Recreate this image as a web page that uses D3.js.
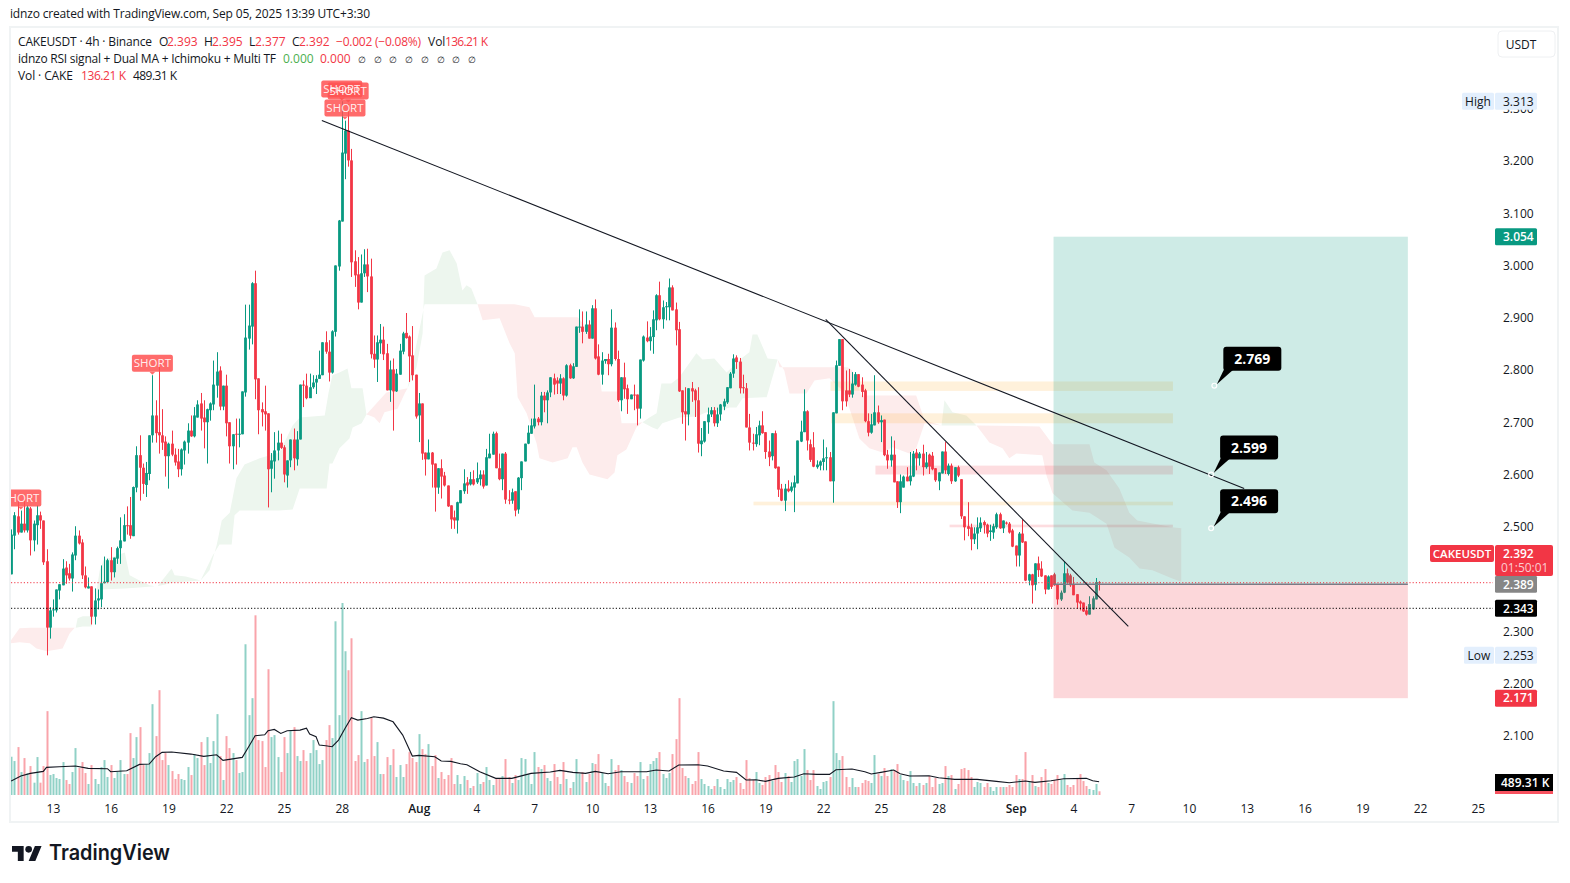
<!DOCTYPE html>
<html><head><meta charset="utf-8">
<script src="https://cdn.jsdelivr.net/npm/d3@7/dist/d3.min.js"></script>
<style>
html,body{margin:0;padding:0;background:#fff;}
svg{display:block;}
text{font-family:"Open Sans","Noto Sans",sans-serif;}
</style></head><body><svg id="c" width="1570" height="883"></svg>
<script>
const opens=[
2.408,2.482,2.519,2.488,2.505,2.492,2.534,2.473,2.502,2.521,
2.511,2.433,2.306,2.339,2.339,2.377,2.387,2.421,2.410,2.400,
2.444,2.482,2.469,2.406,2.381,2.385,2.327,2.358,2.360,2.391,
2.393,2.435,2.412,2.438,2.458,2.471,2.502,2.502,2.481,2.574,
2.636,2.612,2.579,2.600,2.674,2.712,2.680,2.674,2.662,2.634,
2.658,2.637,2.624,2.609,2.645,2.660,2.683,2.672,2.708,2.735,
2.708,2.699,2.722,2.733,2.769,2.798,2.729,2.769,2.699,2.653,
2.677,2.676,2.676,2.756,2.859,2.882,2.965,2.783,2.724,2.720,
2.716,2.610,2.624,2.645,2.660,2.651,2.597,2.626,2.666,2.628,
2.666,2.771,2.769,2.745,2.766,2.775,2.782,2.789,2.852,2.834,
2.794,2.872,2.997,3.083,3.213,3.257,3.200,3.007,2.982,2.928,
2.984,3.001,2.978,2.830,2.819,2.850,2.857,2.831,2.760,2.800,
2.758,2.790,2.834,2.870,2.863,2.827,2.790,2.712,2.735,2.641,
2.628,2.641,2.620,2.574,2.611,2.597,2.578,2.540,2.517,2.511,
2.544,2.567,2.584,2.580,2.590,2.584,2.590,2.599,2.578,2.630,
2.637,2.678,2.611,2.590,2.639,2.551,2.549,2.567,2.532,2.592,
2.624,2.658,2.677,2.691,2.706,2.699,2.750,2.741,2.756,2.783,
2.779,2.773,2.783,2.750,2.808,2.783,2.805,2.881,2.882,2.872,
2.886,2.859,2.917,2.825,2.790,2.816,2.820,2.810,2.880,2.820,
2.741,2.785,2.764,2.743,2.752,2.752,2.725,2.817,2.861,2.854,
2.862,2.894,2.942,2.896,2.919,2.919,2.957,2.915,2.877,2.760,
2.720,2.714,2.764,2.760,2.741,2.657,2.662,2.699,2.714,2.722,
2.697,2.714,2.729,2.737,2.764,2.792,2.823,2.815,2.766,2.764,
2.689,2.660,2.657,2.674,2.693,2.680,2.643,2.634,2.678,2.614,
2.572,2.549,2.572,2.568,2.574,2.582,2.662,2.680,2.720,2.657,
2.651,2.613,2.616,2.623,2.630,2.632,2.586,2.716,2.807,2.858,
2.760,2.760,2.752,2.771,2.791,2.771,2.760,2.701,2.679,2.693,
2.718,2.699,2.704,2.637,2.626,2.637,2.586,2.546,2.574,2.595,
2.586,2.595,2.641,2.630,2.639,2.613,2.637,2.635,2.611,2.586,
2.601,2.643,2.600,2.616,2.586,2.613,2.590,2.519,2.500,2.498,
2.475,2.486,2.496,2.508,2.503,2.489,2.488,2.498,2.523,2.496,
2.507,2.505,2.492,2.463,2.444,2.486,2.471,2.396,2.408,2.388,
2.429,2.419,2.406,2.379,2.406,2.408,2.389,2.360,2.373,2.410,
2.406,2.389,2.370,2.356,2.354,2.339,2.331,2.341,2.360,2.393];
const closes=[
2.484,2.521,2.488,2.505,2.492,2.536,2.473,2.505,2.521,2.511,
2.431,2.306,2.339,2.341,2.379,2.389,2.419,2.406,2.400,2.446,
2.482,2.467,2.406,2.383,2.385,2.327,2.358,2.362,2.391,2.394,
2.435,2.412,2.440,2.458,2.473,2.502,2.500,2.482,2.575,2.636,
2.612,2.581,2.602,2.674,2.712,2.678,2.674,2.660,2.634,2.658,
2.637,2.622,2.609,2.647,2.662,2.683,2.672,2.712,2.733,2.706,
2.699,2.724,2.735,2.771,2.796,2.729,2.769,2.697,2.653,2.676,
2.676,2.677,2.758,2.861,2.884,2.965,2.781,2.722,2.718,2.714,
2.609,2.626,2.645,2.660,2.650,2.599,2.626,2.666,2.630,2.666,
2.771,2.769,2.745,2.766,2.775,2.782,2.790,2.852,2.834,2.794,
2.873,2.999,3.085,3.215,3.257,3.200,3.005,2.980,2.928,2.984,
3.001,2.978,2.829,2.819,2.852,2.857,2.829,2.760,2.800,2.758,
2.792,2.836,2.869,2.860,2.825,2.789,2.710,2.735,2.639,2.628,
2.641,2.618,2.574,2.611,2.595,2.578,2.538,2.513,2.511,2.546,
2.569,2.582,2.578,2.590,2.580,2.592,2.599,2.576,2.632,2.639,
2.677,2.611,2.590,2.639,2.551,2.549,2.565,2.530,2.593,2.624,
2.658,2.679,2.693,2.706,2.699,2.750,2.741,2.756,2.785,2.771,
2.773,2.783,2.750,2.808,2.783,2.806,2.882,2.882,2.872,2.886,
2.859,2.917,2.821,2.790,2.817,2.820,2.810,2.880,2.820,2.741,
2.785,2.762,2.743,2.752,2.750,2.725,2.819,2.863,2.854,2.863,
2.896,2.942,2.896,2.919,2.921,2.957,2.913,2.875,2.758,2.718,
2.714,2.764,2.758,2.741,2.658,2.664,2.701,2.714,2.722,2.697,
2.714,2.733,2.739,2.766,2.792,2.821,2.814,2.764,2.764,2.689,
2.660,2.658,2.676,2.693,2.678,2.642,2.632,2.678,2.611,2.570,
2.549,2.572,2.567,2.576,2.584,2.664,2.681,2.720,2.664,2.627,
2.614,2.618,2.624,2.630,2.632,2.586,2.718,2.808,2.858,2.739,
2.739,2.752,2.773,2.791,2.767,2.757,2.701,2.679,2.695,2.718,
2.699,2.703,2.636,2.626,2.637,2.584,2.546,2.586,2.595,2.586,
2.597,2.639,2.630,2.639,2.613,2.622,2.614,2.609,2.588,2.603,
2.643,2.607,2.616,2.586,2.613,2.597,2.519,2.498,2.495,2.475,
2.486,2.498,2.507,2.502,2.486,2.492,2.500,2.523,2.496,2.511,
2.505,2.488,2.461,2.444,2.486,2.469,2.396,2.408,2.387,2.429,
2.416,2.404,2.379,2.404,2.384,2.387,2.360,2.373,2.410,2.392,
2.387,2.368,2.354,2.352,2.337,2.331,2.351,2.362,2.393,2.392];
const highs=[
2.494,2.527,2.559,2.530,2.556,2.540,2.537,2.511,2.540,2.528,
2.511,2.456,2.345,2.360,2.379,2.389,2.437,2.433,2.428,2.450,
2.500,2.492,2.475,2.423,2.402,2.385,2.381,2.379,2.425,2.442,
2.438,2.460,2.440,2.461,2.517,2.523,2.538,2.556,2.576,2.653,
2.674,2.620,2.623,2.674,2.789,2.741,2.808,2.724,2.672,2.660,
2.683,2.649,2.648,2.649,2.664,2.697,2.712,2.728,2.741,2.755,
2.741,2.725,2.737,2.817,2.833,2.806,2.769,2.790,2.699,2.676,
2.706,2.706,2.758,2.924,2.924,2.967,2.989,2.783,2.737,2.769,
2.716,2.640,2.680,2.683,2.677,2.655,2.626,2.666,2.687,2.682,
2.771,2.779,2.792,2.792,2.789,2.789,2.836,2.852,2.873,2.856,
2.875,2.999,3.086,3.313,3.276,3.308,3.222,3.028,3.015,3.020,
3.030,3.031,3.012,2.865,2.865,2.887,2.882,2.849,2.817,2.821,
2.801,2.849,2.872,2.908,2.865,2.883,2.790,2.755,2.735,2.641,
2.666,2.642,2.620,2.611,2.628,2.604,2.578,2.540,2.530,2.547,
2.569,2.609,2.594,2.604,2.607,2.622,2.607,2.607,2.648,2.677,
2.681,2.681,2.639,2.639,2.642,2.569,2.572,2.567,2.594,2.624,
2.658,2.693,2.706,2.771,2.709,2.757,2.757,2.760,2.785,2.792,
2.785,2.791,2.785,2.810,2.811,2.812,2.882,2.915,2.911,2.911,
2.894,2.923,2.934,2.848,2.833,2.820,2.830,2.915,2.890,2.836,
2.785,2.813,2.771,2.752,2.771,2.752,2.819,2.865,2.892,2.881,
2.913,2.944,2.968,2.932,2.929,2.974,2.961,2.928,2.891,2.760,
2.766,2.764,2.776,2.763,2.766,2.688,2.701,2.727,2.728,2.728,
2.727,2.734,2.744,2.766,2.795,2.829,2.827,2.822,2.790,2.774,
2.715,2.677,2.690,2.702,2.720,2.680,2.664,2.678,2.683,2.614,
2.581,2.581,2.588,2.584,2.597,2.664,2.702,2.762,2.722,2.666,
2.680,2.626,2.626,2.666,2.651,2.642,2.718,2.817,2.858,2.858,
2.798,2.801,2.795,2.795,2.791,2.785,2.763,2.716,2.715,2.789,
2.731,2.712,2.704,2.646,2.672,2.664,2.586,2.599,2.597,2.613,
2.642,2.644,2.648,2.642,2.656,2.642,2.639,2.642,2.611,2.603,
2.643,2.661,2.620,2.620,2.613,2.616,2.590,2.519,2.546,2.505,
2.498,2.517,2.517,2.511,2.505,2.503,2.505,2.526,2.526,2.511,
2.509,2.508,2.495,2.463,2.489,2.513,2.471,2.409,2.409,2.429,
2.442,2.433,2.406,2.406,2.406,2.411,2.390,2.377,2.433,2.419,
2.409,2.403,2.370,2.358,2.354,2.347,2.366,2.366,2.401,2.395];
const lows=[
2.408,2.456,2.484,2.488,2.488,2.488,2.444,2.452,2.465,2.495,
2.426,2.253,2.285,2.327,2.335,2.360,2.387,2.390,2.396,2.375,
2.435,2.465,2.399,2.381,2.381,2.312,2.312,2.341,2.345,2.391,
2.393,2.396,2.402,2.428,2.428,2.471,2.484,2.476,2.481,2.565,
2.549,2.562,2.556,2.588,2.660,2.660,2.639,2.646,2.595,2.572,
2.634,2.616,2.594,2.597,2.618,2.639,2.671,2.670,2.708,2.683,
2.649,2.620,2.702,2.722,2.746,2.722,2.722,2.672,2.620,2.609,
2.618,2.651,2.676,2.748,2.838,2.848,2.743,2.676,2.691,2.683,
2.536,2.565,2.591,2.626,2.648,2.584,2.574,2.613,2.607,2.616,
2.666,2.728,2.743,2.747,2.763,2.753,2.782,2.789,2.830,2.777,
2.792,2.863,2.989,3.083,3.164,3.188,2.977,2.958,2.915,2.928,
2.977,2.948,2.821,2.803,2.776,2.830,2.818,2.760,2.738,2.683,
2.757,2.790,2.829,2.859,2.776,2.779,2.706,2.661,2.627,2.597,
2.628,2.574,2.528,2.562,2.553,2.576,2.537,2.495,2.495,2.486,
2.544,2.562,2.562,2.578,2.578,2.581,2.578,2.572,2.578,2.630,
2.637,2.611,2.588,2.569,2.543,2.542,2.543,2.519,2.524,2.569,
2.624,2.657,2.677,2.687,2.693,2.693,2.718,2.697,2.747,2.752,
2.753,2.753,2.741,2.748,2.782,2.782,2.805,2.870,2.850,2.868,
2.859,2.859,2.819,2.789,2.771,2.811,2.789,2.806,2.817,2.738,
2.720,2.744,2.715,2.743,2.722,2.693,2.706,2.815,2.852,2.836,
2.830,2.875,2.894,2.878,2.894,2.894,2.913,2.846,2.757,2.696,
2.664,2.693,2.738,2.709,2.641,2.634,2.660,2.677,2.709,2.691,
2.690,2.702,2.722,2.734,2.764,2.784,2.801,2.754,2.754,2.689,
2.645,2.645,2.652,2.655,2.677,2.629,2.615,2.626,2.610,2.556,
2.548,2.529,2.565,2.565,2.527,2.582,2.661,2.680,2.645,2.623,
2.613,2.610,2.607,2.607,2.607,2.586,2.545,2.716,2.807,2.722,
2.729,2.747,2.746,2.769,2.766,2.747,2.699,2.672,2.677,2.693,
2.696,2.661,2.634,2.610,2.614,2.584,2.535,2.525,2.574,2.586,
2.578,2.594,2.607,2.616,2.597,2.610,2.600,2.607,2.585,2.569,
2.601,2.600,2.597,2.581,2.585,2.594,2.514,2.473,2.481,2.454,
2.466,2.456,2.489,2.486,2.479,2.472,2.476,2.495,2.495,2.487,
2.503,2.486,2.460,2.423,2.423,2.468,2.395,2.387,2.352,2.377,
2.403,2.403,2.370,2.379,2.380,2.386,2.350,2.357,2.372,2.390,
2.384,2.368,2.342,2.339,2.336,2.329,2.331,2.340,2.360,2.377];
const volumes=[
1411,1252,1767,847,1362,798,1067,454,1399,454,
1067,3092,736,773,626,589,1215,552,405,847,
1730,994,1215,810,405,1104,589,405,1031,1288,
663,1104,626,847,1288,773,773,2282,1362,2135,
2503,1104,1141,1546,3350,2172,3865,1288,1546,1104,
883,589,773,589,552,1031,736,1509,1362,1951,
1104,2135,1178,1988,2982,1436,552,2172,1730,1546,
1288,810,847,5558,2945,3571,6626,2025,1988,1031,
4638,2135,2209,1399,847,2135,1546,2356,2503,1436,
1252,1656,1252,1546,2025,1656,1141,1288,2025,2577,
2098,6405,2945,7080,5301,4601,5779,1252,1472,3092,
1215,1325,2871,1436,1951,773,773,1399,1104,1693,
663,1104,663,1141,1583,1362,1215,2245,1693,1509,
1877,1067,1472,626,847,589,736,1362,405,736,
405,699,552,258,331,810,405,479,1031,552,
368,589,589,699,1325,663,442,736,552,1362,
1325,773,405,1583,1031,957,1104,626,515,1141,
663,405,1215,589,258,479,1325,773,847,479,
773,1178,1141,1509,810,442,331,1325,920,1104,
920,699,479,442,810,699,1215,589,699,1141,
1252,1362,1583,773,626,810,1509,2061,3571,994,
699,626,405,515,1583,589,405,331,221,331,
589,294,221,589,479,552,663,442,221,1288,
626,552,847,442,368,663,736,515,1104,847,
479,810,699,479,1252,1325,699,1693,920,552,
920,331,221,479,515,663,3460,1546,1288,1436,
663,294,626,294,294,442,552,515,442,1472,
773,699,994,699,957,920,1141,736,552,515,
883,442,331,442,368,442,699,294,626,405,
442,1067,699,736,221,405,957,994,920,663,
294,479,442,294,442,294,147,294,294,294,
294,368,294,736,589,589,1583,479,736,331,
294,663,957,442,405,552,736,552,773,368,
294,368,589,773,515,331,221,184,405,136.21];

const volMaIdx=[0,3,6,10,11,15,20,24,30,31,36,40,43,45,47,50,56,60,64,66,72,74,76,79,80,82,84,86,90,92,93,95,96,98,100,102,104,106,108,111,113,116,119,122,125,127,132,134,137,140,142,146,151,156,162,168,171,175,179,182,186,190,195,198,201,205,208,214,217,222,226,229,232,235,239,244,247,251,255,257,262,266,268,271,275,277,280,286,289,294,301,307,311,316,319,324,328,335,337,339];
const volMaVal=[515,699,798,871,1018,1043,1067,982,969,859,896,1129,1141,1411,1571,1583,1509,1423,1485,1276,1387,1779,2184,2221,2368,2417,2270,2368,2393,2466,2245,2147,1841,1816,1779,2025,2454,2847,2761,2822,2883,2834,2699,2209,1436,1460,1411,1252,1239,1153,1117,859,614,614,798,847,908,834,798,871,785,859,859,859,920,883,1104,1117,1067,883,834,552,564,503,614,663,785,761,761,933,957,859,773,834,920,785,699,712,638,577,577,503,454,515,466,528,601,614,528,489.31];

const cloudGreen=[
[[20.1,2.306],[20.7,2.324],[22.3,2.328],[25.1,2.328],[26.6,2.377],[27.6,2.416],[28.8,2.435],[35.4,2.450],[36.9,2.406],[40,2.396],[43.1,2.387],[44.7,2.385],[40,2.383],[35.4,2.381],[27.6,2.379],[26.6,2.358],[25.1,2.308],[22.3,2.308]],
[[45.6,2.385],[50,2.419],[50.9,2.406],[54.4,2.404],[59,2.396],[54.4,2.394],[50.9,2.393]],
[[59,2.396],[61.8,2.416],[64,2.463],[65.6,2.511],[68.1,2.526],[70.2,2.592],[72.7,2.618],[77.4,2.630],[83.6,2.641],[87.7,2.693],[89.9,2.708],[97.7,2.712],[98.9,2.756],[100.1,2.789],[102.3,2.794],[104.8,2.802],[106,2.764],[109.5,2.764],[110.7,2.714],[109.2,2.697],[106.4,2.689],[105.4,2.668],[102.3,2.649],[100.1,2.620],[99.2,2.620],[98.3,2.572],[89.9,2.572],[87.7,2.532],[83.6,2.530],[71.2,2.530],[69.6,2.521],[68.7,2.465],[64.9,2.465],[62.8,2.444]],
[[123.5,2.764],[126.3,2.804],[128.2,2.869],[128.8,2.980],[132.5,2.993],[134.4,3.024],[136.6,3.028],[138.8,3.003],[140.6,2.951],[141.9,2.961],[143.4,2.955],[145.3,2.925],[128.8,2.925]],
[[196.7,2.699],[198.9,2.708],[201.1,2.716],[202.6,2.773],[205.7,2.773],[208.2,2.785],[213.5,2.831],[215.4,2.819],[219.1,2.821],[222.9,2.794],[227.9,2.823],[230,2.833],[231,2.867],[232.5,2.867],[235.7,2.821],[238.8,2.819],[235.4,2.747],[227.9,2.745],[226,2.727],[223.8,2.727],[218.5,2.716],[216.7,2.718],[213.5,2.710],[208.2,2.708],[202.9,2.697],[201.4,2.685],[199.8,2.689]],
[[289.9,2.693],[290.8,2.741],[293.3,2.718],[297.6,2.712],[300.8,2.693]]];
const cloudRed=[
[[-0.5,2.278],[2.6,2.305],[5.8,2.306],[19.8,2.306],[18.2,2.295],[16,2.266],[11.1,2.261],[7.9,2.266],[5.8,2.276],[2.6,2.278],[-0.5,2.276]],
[[110.7,2.714],[116.9,2.756],[123.5,2.764],[122.6,2.754],[120.4,2.725],[116.3,2.718],[114.8,2.697],[113.2,2.708],[111.7,2.712]],
[[145.3,2.925],[156.9,2.925],[161.5,2.919],[163.1,2.900],[176.5,2.900],[181.8,2.861],[184,2.758],[188.9,2.758],[190.2,2.697],[194.8,2.697],[196.7,2.699],[194.8,2.689],[191.7,2.647],[188.9,2.636],[188,2.603],[185.8,2.590],[180.2,2.599],[178,2.622],[176.2,2.651],[174.9,2.651],[173.4,2.630],[168.7,2.622],[164.6,2.630],[163.7,2.659],[160.6,2.716],[157.8,2.747],[156.9,2.831],[155.3,2.850],[152.2,2.898],[146.9,2.894]],
[[238.8,2.819],[239.4,2.804],[260.6,2.804],[262.1,2.798],[264.9,2.750],[282,2.750],[284.6,2.703],[289.9,2.693],[284.6,2.697],[282,2.649],[279.9,2.639],[274.6,2.651],[271.5,2.641],[267.4,2.649],[264.3,2.668],[260.6,2.737],[259,2.760],[255,2.783],[250.3,2.779],[247.8,2.754],[242.5,2.754],[240.9,2.798]],
[[300.8,2.693],[320.4,2.691],[324.5,2.657],[336,2.657],[337.5,2.622],[341.3,2.607],[345.3,2.572],[348.4,2.526],[350.9,2.511],[361.8,2.498],[364.6,2.496],[364.6,2.394],[361.8,2.400],[355.6,2.416],[351.6,2.419],[348.4,2.440],[343.8,2.459],[341.3,2.505],[336,2.526],[330.7,2.530],[324.5,2.563],[322.6,2.597],[321.3,2.636],[313.2,2.639],[311,2.630],[308.9,2.649],[304.8,2.660]]];

const zoneStart=[255.3,255.5,269.3,231.3,292.4];
const zoneEnd=[362,362,362,362,362];
const zoneTop=[2.777,2.716,2.616,2.547,2.503];
const zoneBottom=[2.759,2.697,2.599,2.540,2.498];
const zoneKind=["y","y","r","y","r"];

const positionStart=324.8, positionEnd=435.2;
const targetPrice=3.054, entryPrice=2.389, stopPrice=2.171;
const lastPrice=2.392, markPrice=2.343;

const trendA=[[96.8,3.2765],[384.2,2.5724]];
const trendB=[[253.8,2.8958],[348.1,2.3083]];

const calloutIdx=[374.9,373.9,373.9];
const calloutPrice=[2.769,2.599,2.496];

const shortIdx=[3,44,103,105,104];
const shortPrice=[2.534,2.792,3.3167,3.3129,3.2804];

const priceTicks=[3.3,3.2,3.1,3.0,2.9,2.8,2.7,2.6,2.5,2.3,2.2,2.1];
const dateTickIdx=[13,31,49,67,85,103,127,145,163,181,199,217,235,253,271,289,313,331,349,367,385,403,421,439,457];
const dateTickLabels=["13","16","19","22","25","28","Aug","4","7","10","13","16","19","22","25","28","Sep","4","7","10","13","16","19","22","25"];

const GREEN="#089981",RED="#F23645",INK="#131722";
const svg=d3.select("#c");
const x=d3.scaleLinear().domain([0,457]).range([11.2,1477.8]);
const y=d3.scaleLinear().domain([3.2,2.1]).range([160.4,735.3]);
const yVol=d3.scaleLinear().domain([0,7080]).range([795,603]);

const defs=svg.append("defs");
defs.append("clipPath").attr("id","plot").append("rect").attr("x",11).attr("y",28).attr("width",1482).attr("height",768);

// frame
svg.append("rect").attr("x",10).attr("y",27).attr("width",1548).attr("height",795)
  .attr("fill","#fff").attr("stroke","#f0f3f4").attr("stroke-width",2);

const plot=svg.append("g").attr("clip-path","url(#plot)");

// cloud
const poly=d3.line().x(d=>x(d[0])).y(d=>y(d[1]));
plot.selectAll(".cg").data(cloudGreen).join("path").attr("d",d=>poly(d)+"Z").attr("fill","#edf6ee");
plot.selectAll(".cr").data(cloudRed).join("path").attr("d",d=>poly(d)+"Z").attr("fill","#fdecec");

// zones
plot.selectAll(".zone").data(zoneStart).join("rect")
  .attr("x",(d,i)=>x(d)).attr("width",(d,i)=>x(zoneEnd[i])-x(d))
  .attr("y",(d,i)=>y(zoneTop[i])).attr("height",(d,i)=>y(zoneBottom[i])-y(zoneTop[i]))
  .attr("fill",(d,i)=>zoneKind[i]==="y"?"rgba(255,183,77,0.2)":"rgba(242,54,69,0.17)");

// volume
plot.selectAll(".vol").data(volumes).join("rect")
  .attr("x",(d,i)=>Math.round(x(i))-.5).attr("width",2)
  .attr("y",d=>yVol(d)).attr("height",d=>795-yVol(d))
  .attr("fill",(d,i)=>closes[i]>=opens[i]?"rgba(8,153,129,0.45)":"rgba(242,54,69,0.45)");
plot.append("path").datum(volMaIdx.map((d,i)=>[d,volMaVal[i]]))
  .attr("d",d3.line().x(d=>x(d[0])).y(d=>yVol(d[1])))
  .attr("fill","none").attr("stroke",INK).attr("stroke-width",1.1);

// candles
const col=i=>closes[i]>=opens[i]?GREEN:RED;
const cg=plot.append("g");
cg.selectAll(".w").data(opens).join("line")
  .attr("x1",(d,i)=>Math.round(x(i))+.5).attr("x2",(d,i)=>Math.round(x(i))+.5)
  .attr("y1",(d,i)=>y(highs[i])).attr("y2",(d,i)=>y(lows[i]))
  .attr("stroke",(d,i)=>col(i)).attr("stroke-width",1);
cg.selectAll(".b").data(opens).join("rect")
  .attr("x",(d,i)=>Math.round(x(i))-.9).attr("width",2.8)
  .attr("y",(d,i)=>y(Math.max(opens[i],closes[i])))
  .attr("height",(d,i)=>Math.max(1,Math.abs(y(opens[i])-y(closes[i]))))
  .attr("fill",(d,i)=>col(i));

// position tool
plot.append("rect").attr("x",x(positionStart)).attr("width",x(positionEnd)-x(positionStart))
  .attr("y",y(targetPrice)).attr("height",y(entryPrice)-y(targetPrice)).attr("fill","rgba(8,153,129,0.2)");
plot.append("rect").attr("x",x(positionStart)).attr("width",x(positionEnd)-x(positionStart))
  .attr("y",y(entryPrice)).attr("height",y(stopPrice)-y(entryPrice)).attr("fill","rgba(242,54,69,0.2)");
plot.append("line").attr("x1",x(positionStart)).attr("x2",x(positionEnd)).attr("y1",y(entryPrice)).attr("y2",y(entryPrice))
  .attr("stroke","#787b86").attr("stroke-width",1.5);

// horizontal dotted lines
plot.append("line").attr("x1",11).attr("x2",1493).attr("y1",y(lastPrice)).attr("y2",y(lastPrice))
  .attr("stroke",RED).attr("stroke-width",1).attr("stroke-dasharray","1.2 2");
plot.append("line").attr("x1",11).attr("x2",1493).attr("y1",y(markPrice)).attr("y2",y(markPrice))
  .attr("stroke","#000").attr("stroke-width",1).attr("stroke-dasharray","1.2 2");

// trend lines
[trendA,trendB].forEach(t=>plot.append("line")
  .attr("x1",x(t[0][0])).attr("y1",y(t[0][1])).attr("x2",x(t[1][0])).attr("y2",y(t[1][1]))
  .attr("stroke",INK).attr("stroke-width",1.1));

// SHORT labels
const sg=plot.append("g");
shortIdx.forEach((d,i)=>{
  const cx=x(d), by=y(shortPrice[i])-2;
  const g=sg.append("g").attr("opacity",.85);
  g.append("path").attr("d",`M${cx-3},${by} L${cx},${by+3} L${cx+3},${by} Z`).attr("fill","#FF5252");
  g.append("rect").attr("x",cx-20.5).attr("y",by-17).attr("width",41).attr("height",17).attr("rx",2).attr("fill","#FF5252");
});
shortIdx.forEach((d,i)=>{
  const cx=x(d), by=y(shortPrice[i])-2;
  sg.append("text").attr("x",cx).attr("y",by-4.5).attr("text-anchor","middle").attr("font-size",11.5).attr("fill","#fff").attr("fill-opacity",.9).text("SHORT");
});

// callouts
calloutIdx.forEach((d,i)=>{
  const ax=x(d), ay=y(calloutPrice[i]), lx=ax+9, ty=ay-39;
  const g=svg.append("g");
  g.append("path").attr("d",`M${lx+1},${ty+22} L${ax+2.5},${ay-1.5} L${lx+11},${ty+22} Z`).attr("fill","#000");
  g.append("rect").attr("x",lx).attr("y",ty).attr("width",58).attr("height",24).attr("rx",3).attr("fill","#000");
  g.append("text").attr("x",lx+29).attr("y",ty+17).attr("text-anchor","middle").attr("font-size",14).attr("font-weight",700).attr("fill","#fff").text(calloutPrice[i].toFixed(3));
  g.append("circle").attr("cx",ax).attr("cy",ay).attr("r",2.4).attr("fill","none").attr("stroke","#fff").attr("stroke-width",1.2);
});

// price axis
const ya=svg.append("g").attr("transform","translate(1503,0.6)").call(d3.axisRight(y).tickValues(priceTicks).tickSize(0).tickPadding(0).tickFormat(d3.format(".3f")));
ya.select(".domain").remove();
ya.selectAll("text").attr("font-size",12).attr("fill",INK).style("font-family","'Open Sans',sans-serif");

// date axis
const xa=svg.append("g").attr("transform","translate(0,804.5)").call(d3.axisBottom(x).tickValues(dateTickIdx).tickSize(0).tickPadding(0).tickFormat((d,i)=>dateTickLabels[i]));
xa.select(".domain").remove();
xa.selectAll("text").attr("font-size",12).attr("fill",INK).attr("font-weight",(d,i)=>/[A-Z]/.test(dateTickLabels[i])?600:400).style("font-family","'Open Sans',sans-serif");

// price tags
function tag(px,label,fill,color,weight,w){
  const cy=y(px);
  svg.append("rect").attr("x",1495).attr("y",cy-8.5).attr("width",w||42).attr("height",17).attr("rx",1.5).attr("fill",fill);
  svg.append("text").attr("x",1503).attr("y",cy+4.3).attr("font-size",12).attr("font-weight",weight||600).attr("fill",color).text(label);
}
function sideTag(px,label,x0,w,fill,color){
  const cy=y(px);
  svg.append("rect").attr("x",x0).attr("y",cy-8.5).attr("width",w).attr("height",17).attr("rx",1.5).attr("fill",fill);
  svg.append("text").attr("x",x0+w/2).attr("y",cy+4.3).attr("text-anchor","middle").attr("font-size",12).attr("font-weight",color==="#fff"?600:400).attr("fill",color).text(label);
}
sideTag(3.313,"High",1462,32,"#e3effd",INK);
tag(3.313,"3.313","#e3effd",INK,400);
tag(targetPrice,"3.054",GREEN,"#fff");
tag(entryPrice,"2.389","#868686","#fff");
tag(markPrice,"2.343","#000","#fff");
sideTag(2.253,"Low",1464,30,"#e3effd",INK);
tag(2.253,"2.253","#e3effd",INK,400);
tag(stopPrice,"2.171",RED,"#fff");

// last price tag
svg.append("rect").attr("x",1430).attr("y",545).attr("width",64).attr("height",17).attr("rx",2).attr("fill",RED);
svg.append("text").attr("x",1462).attr("y",558).attr("text-anchor","middle").attr("font-size",11.5).attr("font-weight",600).attr("fill","#fff").text("CAKEUSDT");
svg.append("rect").attr("x",1495).attr("y",545).attr("width",58).attr("height",31).attr("rx",2).attr("fill",RED);
svg.append("text").attr("x",1503).attr("y",558).attr("font-size",12).attr("font-weight",600).attr("fill","#fff").text("2.392");
svg.append("text").attr("x",1501).attr("y",572).attr("font-size",12).attr("fill","#fff").attr("fill-opacity",.75).text("01:50:01");

// volume tag
svg.append("rect").attr("x",1495).attr("y",774).attr("width",58).attr("height",17).attr("fill","#000");
svg.append("rect").attr("x",1495).attr("y",791).attr("width",58).attr("height",3).attr("fill","#F7525F");
svg.append("text").attr("x",1501).attr("y",787).attr("font-size",12).attr("font-weight",600).attr("fill","#fff").text("489.31 K");

// USDT button
svg.append("rect").attr("x",1498).attr("y",31).attr("width",57).attr("height",26).attr("rx",4).attr("fill","#fff").attr("stroke","#eef0f2");
svg.append("text").attr("x",1521).attr("y",48.5).attr("text-anchor","middle").attr("font-size",12).attr("fill",INK).text("USDT");

// header / legend
function t(px,py,s,c,ls,w){const n=svg.append("text").attr("x",px).attr("y",py).attr("font-size",ls||12).attr("fill",c||INK).text(s); if(w)n.attr("textLength",w).attr("lengthAdjust","spacing"); return n;}
t(10,18,"idnzo created with TradingView.com, Sep 05, 2025 13:39 UTC+3:30",INK,12,360);
t(18,46,"CAKEUSDT · 4h · Binance",INK,12,134);
[["O",159,"2.393",167],["H",204,"2.395",212],["L",249,"2.377",255],["C",292,"2.392",299]].forEach(r=>{t(r[1],46,r[0]);t(r[3],46,r[2],RED);});
t(336,46,"−0.002 (−0.08%)",RED,12,85);
t(428,46,"Vol");t(445,46,"136.21 K",RED,12,43);
t(18,63,"idnzo RSI signal + Dual MA + Ichimoku + Multi TF",INK,12,258);
t(283,63,"0.000","#4caf50");t(320,63,"0.000",RED);
d3.range(8).forEach(k=>t(358+k*15.7,63,"∅",INK,8.5));
t(18,80,"Vol · CAKE",INK,12,55);t(81,80,"136.21 K",RED,12,45);t(133,80,"489.31 K",INK,12,44);

// logo
const logo=svg.append("g").attr("transform","translate(12,842.7) scale(.833)").attr("fill","#131722");
logo.append("path").attr("d","M14 22H7V11H0V4h14v18zM28 22h-8l7.5-18h8L28 22z");
logo.append("circle").attr("cx",20).attr("cy",8).attr("r",4);
svg.append("text").attr("x",49).attr("y",860).attr("font-size",21).attr("font-weight",600).attr("fill","#131722").attr("textLength",121).attr("lengthAdjust","spacingAndGlyphs").style("font-family","Inter,sans-serif").text("TradingView");
</script></body></html>
